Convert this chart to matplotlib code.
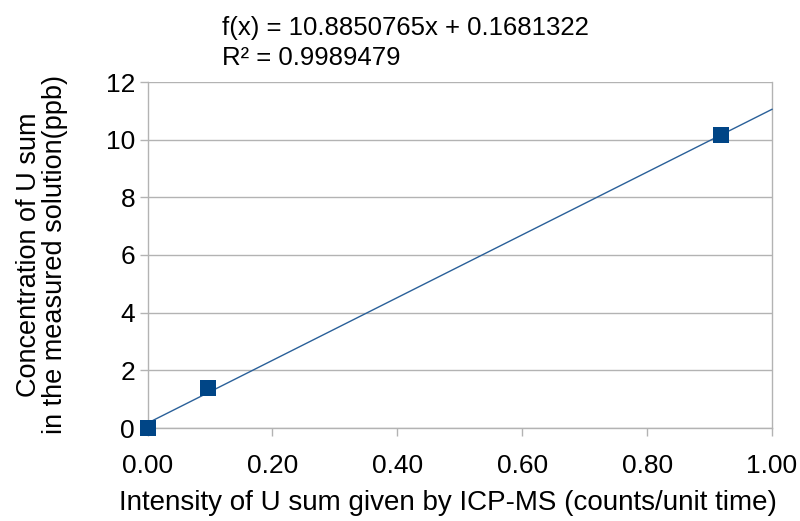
import matplotlib
matplotlib.use("Agg")
import matplotlib.pyplot as plt
import numpy as np

plt.rcParams['font.family'] = ['Liberation Sans', 'DejaVu Sans']

x_vals = [0.0, 0.097, 0.918]
y_vals = [0.0, 1.38, 10.15]
slope = 10.8850765
intercept = 0.1681322
x_ticks = [0.0, 0.2, 0.4, 0.6, 0.8, 1.0]
x_tick_labels = ["0.00", "0.20", "0.40", "0.60", "0.80", "1.00"]
y_ticks = [0, 2, 4, 6, 8, 10, 12]

fig = plt.figure(figsize=(8, 5.21), dpi=100)
ax = fig.add_axes([147.5/800, 1 - 428/521, (772-147.5)/800, (428-82)/521])

ax.set_xlim(0, 1)
ax.set_ylim(0, 12)
ax.set_yticks(y_ticks)
ax.set_xticks(x_ticks)
ax.set_xticklabels(x_tick_labels)
ax.grid(axis='y', color='#b3b3b3', linewidth=1)
ax.set_axisbelow(True)
ax.spines['top'].set_visible(False)
for s in ['left', 'right', 'bottom']:
    ax.spines[s].set_color('#b3b3b3')
    ax.spines[s].set_linewidth(1)
ax.tick_params(axis='both', colors='#b3b3b3', labelcolor='black', labelsize=19, length=6, width=1)
ax.tick_params(axis='x', pad=13)
ax.tick_params(axis='y', pad=3)

xl = np.array([0.0, 1.0])
ax.plot(xl, slope * xl + intercept, color='#2a6099', linewidth=1, zorder=3, clip_on=False)
ax.scatter(x_vals, y_vals, marker='s', s=130, color='#004586', zorder=4, clip_on=False, linewidths=0)

ax.set_xlabel("Intensity of U sum given by ICP-MS (counts/unit time)", fontsize=20)
ax.xaxis.set_label_coords((448 - 147.5) / 624.5, -(503 - 428) / 346)
ax.xaxis.label.set_va('center')
ax.set_ylabel("Concentration of U sum\nin the measured solution(ppb)", fontsize=19.5, linespacing=1.0)
ax.yaxis.set_label_coords(-(147.5 - 42) / 624.5, 0.5)
ax.yaxis.label.set_va('center')

fig.text(222/800, 1 - 28/521, "f(x) = 10.8850765x + 0.1681322", fontsize=18.5, va='center', ha='left')
fig.text(222/800, 1 - 58/521, "R² = 0.9989479", fontsize=18.5, va='center', ha='left')

fig.savefig("out.png", dpi=100)
